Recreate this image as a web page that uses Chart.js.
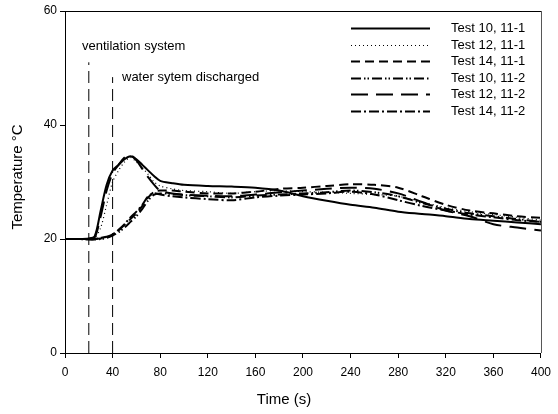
<!DOCTYPE html>
<html>
<head>
<meta charset="utf-8">
<script src="https://cdn.jsdelivr.net/npm/chart.js@4"></script>
<style>
  html, body { margin: 0; padding: 0; background: #fff; }
  #wrap { width: 558px; height: 414px; }
</style>
</head>
<body>
<div id="wrap"><canvas id="myChart" width="558" height="414"></canvas></div>
<script>
// time axis (s)
const time = [0, 10, 20, 25, 30, 35, 40, 45, 50, 55, 60, 65, 70, 75, 80, 90, 100, 120, 140, 160, 180, 200, 220, 240, 260, 280, 300, 320, 340, 360, 380, 400];

// temperature series (deg C)
const test10_111 = [20, 20, 20.1, 20.5, 25, 29.5, 32, 33, 34, 34.5, 34, 33, 32, 31, 30.2, 29.8, 29.5, 29.3, 29.2, 29, 28.5, 27.5, 26.7, 26, 25.5, 24.8, 24.4, 24, 23.5, 23.2, 22.9, 22.6];
const test12_111 = [20, 20, 19.9, 20.2, 22, 26, 30, 32, 33.5, 34.3, 33.5, 32.5, 31.3, 30, 29.3, 28.8, 28.5, 28.3, 28, 28.3, 28.5, 28.3, 28.2, 28, 27.8, 27.5, 26.5, 25.5, 24.8, 24.3, 23.8, 23.3];
const test14_111 = [20, 20, 20, 20, 20.1, 20.3, 20.8, 21.5, 22.5, 23.5, 24.5, 25.8, 27.3, 28.3, 28.5, 28.5, 28.3, 28, 28, 28.3, 28.8, 29, 29.3, 29.6, 29.5, 29, 27.5, 26, 25, 24.5, 24, 23.7];
const test10_112 = [20, 20, 19.9, 19.9, 20, 20.2, 20.6, 21.2, 22, 23, 24, 25.3, 26.8, 27.8, 28, 27.9, 27.7, 27.5, 27.3, 27.6, 27.8, 28, 28.2, 28.5, 28.2, 27.5, 26.3, 25.3, 24.5, 24, 23.5, 23];
const test12_112 = [20, 20, 20, 20.3, 24, 28.5, 31.5, 33, 34.3, 34.7, 33.8, 32.3, 30.8, 29.5, 28.5, 28, 27.8, 27.6, 27.5, 27.8, 28.2, 28.5, 28.8, 29, 28.8, 28, 26.5, 25, 24, 22.6, 22, 21.5];
const test14_112 = [20, 20, 20, 20, 20.2, 20.4, 20.8, 21.6, 22.6, 23.8, 24.8, 26, 27.5, 28, 27.8, 27.5, 27.3, 27, 26.8, 27.3, 27.6, 27.8, 28, 28.3, 27.8, 26.8, 25.8, 25, 24.3, 23.8, 23.3, 23];

const seriesNames = ['Test 10, 11-1', 'Test 12, 11-1', 'Test 14, 11-1', 'Test 10, 11-2', 'Test 12, 11-2', 'Test 14, 11-2'];

// event markers
const markerTimes = [20, 40];
const markerTops = [51, 48.4];
const markerLabels = ['ventilation system', 'water sytem discharged'];
const markerLabelX = [14.3, 47.9];
const markerLabelY = [53.7, 48.4];

const xTicks = [0, 40, 80, 120, 160, 200, 240, 280, 320, 360, 400];
const yTicks = [0, 20, 40, 60];

const FONT = "'Liberation Sans', Arial, sans-serif";

function toPoints(values) {
	return values.map((v, i) => ({ x: time[i], y: v }));
}

function series(label, values, dash, width) {
	return {
		label: label,
		data: toPoints(values),
		borderColor: '#000',
		borderWidth: width,
		borderDash: dash,
		pointRadius: 0,
		tension: 0.3,
		fill: false
	};
}

const datasets = [
	series(seriesNames[0], test10_111, [], 2),
	series(seriesNames[1], test12_111, [1, 3], 1.2),
	series(seriesNames[2], test14_111, [9, 5], 2),
	series(seriesNames[3], test10_112, [10, 3, 1.5, 2, 1.5, 3], 2),
	series(seriesNames[4], test12_112, [17, 8], 2),
	series(seriesNames[5], test14_112, [10, 3, 2, 3], 2)
];

markerTimes.forEach((t, i) => {
	datasets.push({
		label: 'marker' + i,
		data: [{ x: t, y: 0 }, { x: t, y: markerTops[i] }],
		borderColor: '#000',
		borderWidth: 1,
		borderDash: [12, 6],
		pointRadius: 0,
		isMarker: true
	});
});

const extrasPlugin = {
	id: 'extras',
	afterDatasetsDraw(chart) {
		const ctx = chart.ctx;
		const area = chart.chartArea;
		const xs = chart.scales.x;
		const ys = chart.scales.y;
		ctx.save();

		// top and right frame
		ctx.lineWidth = 1;
		ctx.strokeStyle = '#000';
		ctx.beginPath();
		ctx.moveTo(area.left, area.top + 0.5);
		ctx.lineTo(area.right, area.top + 0.5);
		ctx.stroke();
		ctx.strokeStyle = '#555';
		ctx.beginPath();
		ctx.moveTo(area.right + 0.5, area.top);
		ctx.lineTo(area.right + 0.5, area.bottom);
		ctx.stroke();

		// marker labels
		ctx.fillStyle = '#000';
		ctx.font = '13px ' + FONT;
		ctx.textAlign = 'left';
		ctx.textBaseline = 'middle';
		markerLabels.forEach((txt, i) => {
			ctx.fillText(txt, xs.getPixelForValue(markerLabelX[i]), ys.getPixelForValue(markerLabelY[i]));
		});

		// legend
		const legendX = 351, legendW = 79, textX = 451, rowY = 28, rowH = 16.6;
		chart.data.datasets.forEach((ds, i) => {
			if (ds.isMarker) return;
			const y = Math.round(rowY + i * rowH) + 0.5;
			ctx.strokeStyle = '#000';
			ctx.lineWidth = ds.borderWidth;
			ctx.setLineDash(ds.borderDash);
			ctx.beginPath();
			ctx.moveTo(legendX, y);
			ctx.lineTo(legendX + legendW, y);
			ctx.stroke();
			ctx.setLineDash([]);
			ctx.fillText(ds.label, textX, y);
		});

		// axis titles
		ctx.font = '15px ' + FONT;
		ctx.textAlign = 'center';
		ctx.fillText('Time (s)', 284, 400);
		ctx.translate(18, 177);
		ctx.rotate(-Math.PI / 2);
		ctx.fillText('Temperature \u00B0C', 0, 0);
		ctx.restore();
	}
};

const canvas = document.getElementById('myChart');
new Chart(canvas, {
	type: 'line',
	data: { datasets: datasets },
	options: {
		responsive: false,
		animation: false,
		layout: { padding: { top: 11, right: 17, left: 0, bottom: 0 } },
		plugins: { legend: { display: false }, tooltip: { enabled: false } },
		scales: {
			x: {
				type: 'linear',
				min: 0,
				max: 400,
				afterBuildTicks: (scale) => { scale.ticks = xTicks.map(v => ({ value: v })); },
				afterFit: (scale) => { scale.height = 61; },
				grid: { drawOnChartArea: false, drawTicks: true, tickLength: 5, color: '#000' },
				border: { color: '#000', width: 1 },
				ticks: { color: '#000', padding: 7, maxRotation: 0, font: { family: FONT, size: 12 } }
			},
			y: {
				type: 'linear',
				min: 0,
				max: 60,
				afterBuildTicks: (scale) => { scale.ticks = yTicks.map(v => ({ value: v })); },
				afterFit: (scale) => { scale.width = 65; },
				grid: { drawOnChartArea: false, drawTicks: true, tickLength: 5, color: '#000' },
				border: { color: '#000', width: 1 },
				ticks: { color: '#000', padding: 3, font: { family: FONT, size: 12 } }
			}
		}
	},
	plugins: [extrasPlugin]
});
</script>
</body>
</html>
